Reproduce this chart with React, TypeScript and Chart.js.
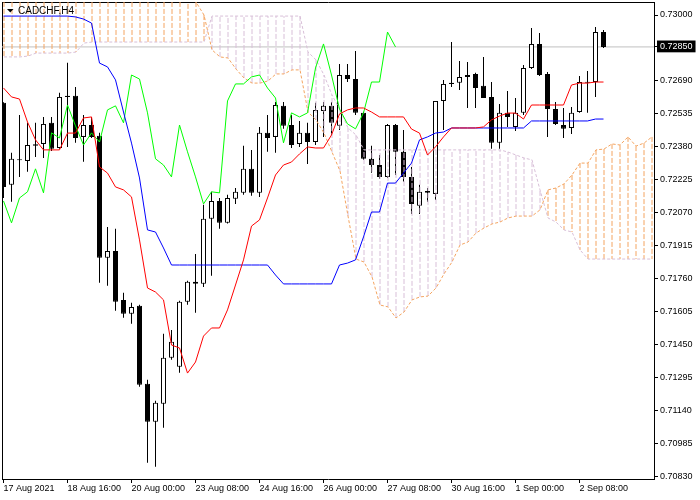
import React, { useEffect, useRef } from "react";
import { Chart, registerables } from "chart.js";

Chart.register(...registerables);

const symbolLabel = "CADCHF,H4";
const timeLabels = ["17 Aug 2021", "18 Aug 16:00", "20 Aug 00:00", "23 Aug 08:00", "24 Aug 16:00", "26 Aug 00:00", "27 Aug 08:00", "30 Aug 16:00", "1 Sep 00:00", "2 Sep 08:00"];
const timeLabelBars = [0, 8, 16, 24, 32, 40, 48, 56, 64, 72];
const priceTicks = [0.73, 0.7285, 0.7269, 0.72535, 0.7238, 0.72225, 0.7207, 0.71915, 0.7176, 0.71605, 0.7145, 0.71295, 0.7114, 0.70985, 0.7083];
const currentPrice = 0.7285;
const chikouShift = 26;

const opens = [
  0.72587, 0.72202, 0.72319, 0.72314, 0.72392, 0.72394, 0.72493, 0.72375, 0.72620, 0.72620,
  0.72427, 0.72483, 0.72432, 0.71859, 0.71891, 0.71661, 0.71596, 0.71633, 0.71267, 0.71088,
  0.71173, 0.71389, 0.71347, 0.71652, 0.71746, 0.71737, 0.72042, 0.72126, 0.72023, 0.72136,
  0.72164, 0.72277, 0.72164, 0.72446, 0.72427, 0.72573, 0.72483, 0.72394, 0.72446, 0.72403,
  0.72549, 0.72573, 0.72479, 0.72718, 0.72699, 0.72540, 0.72324, 0.72295, 0.72239, 0.72483,
  0.72357, 0.72239, 0.72103, 0.72173, 0.72159, 0.72596, 0.72681, 0.72681, 0.72709, 0.72723,
  0.72667, 0.72615, 0.72399, 0.72540, 0.72474, 0.72540, 0.72751, 0.72864, 0.72723, 0.72558,
  0.72483, 0.72469, 0.72544, 0.72681, 0.72685, 0.72920,
];
const highs = [
  0.72590, 0.72352, 0.72530, 0.72493, 0.72493, 0.72521, 0.72521, 0.72634, 0.72775, 0.72662,
  0.72530, 0.72521, 0.72446, 0.72004, 0.71995, 0.71694, 0.71647, 0.71638, 0.71286, 0.71187,
  0.71502, 0.71520, 0.71657, 0.71751, 0.71877, 0.72108, 0.72169, 0.72140, 0.72155, 0.72187,
  0.72385, 0.72366, 0.72474, 0.72530, 0.72591, 0.72591, 0.72530, 0.72502, 0.72493, 0.72587,
  0.72591, 0.72591, 0.72770, 0.72770, 0.72831, 0.72545, 0.72385, 0.72342, 0.72488, 0.72488,
  0.72460, 0.72286, 0.72202, 0.72187, 0.72596, 0.72695, 0.72873, 0.72784, 0.72779, 0.72728,
  0.72803, 0.72685, 0.72582, 0.72643, 0.72610, 0.72765, 0.72939, 0.72915, 0.72732, 0.72591,
  0.72563, 0.72568, 0.72713, 0.72737, 0.72944, 0.72930,
];
const lows = [
  0.72140, 0.72122, 0.72239, 0.72263, 0.72333, 0.72328, 0.72361, 0.72371, 0.72380, 0.72399,
  0.72310, 0.72422, 0.71741, 0.71727, 0.71610, 0.71577, 0.71549, 0.71253, 0.70896, 0.70877,
  0.71060, 0.71380, 0.71318, 0.71638, 0.71600, 0.71722, 0.71774, 0.71995, 0.72020, 0.72112,
  0.72155, 0.72150, 0.72145, 0.72357, 0.72352, 0.72465, 0.72375, 0.72380, 0.72300, 0.72389,
  0.72427, 0.72436, 0.72460, 0.72685, 0.72530, 0.72319, 0.72258, 0.72230, 0.72234, 0.72248,
  0.72216, 0.72065, 0.72065, 0.72122, 0.72131, 0.72460, 0.72662, 0.72648, 0.72563, 0.72563,
  0.72610, 0.72371, 0.72371, 0.72474, 0.72455, 0.72530, 0.72746, 0.72713, 0.72427, 0.72483,
  0.72422, 0.72441, 0.72540, 0.72540, 0.72615, 0.72845,
];
const closes = [
  0.72192, 0.72324, 0.72317, 0.72389, 0.72385, 0.72488, 0.72371, 0.72615, 0.72615, 0.72422,
  0.72483, 0.72427, 0.71859, 0.71891, 0.71652, 0.71596, 0.71628, 0.71262, 0.71088, 0.71178,
  0.71389, 0.71464, 0.71652, 0.71746, 0.71737, 0.72042, 0.72126, 0.72023, 0.72140, 0.72169,
  0.72277, 0.72164, 0.72446, 0.72422, 0.72577, 0.72479, 0.72389, 0.72446, 0.72403, 0.72554,
  0.72573, 0.72493, 0.72718, 0.72699, 0.72540, 0.72324, 0.72295, 0.72239, 0.72483, 0.72357,
  0.72239, 0.72112, 0.72169, 0.72164, 0.72596, 0.72676, 0.72676, 0.72709, 0.72718, 0.72657,
  0.72610, 0.72399, 0.72540, 0.72521, 0.72540, 0.72751, 0.72864, 0.72718, 0.72558, 0.72488,
  0.72465, 0.72540, 0.72685, 0.72685, 0.72920, 0.72850,
];
const tenkan = [
  0.72657, 0.72615, 0.72605, 0.72497, 0.72413, 0.72366, 0.72366, 0.72366, 0.72445, 0.72445,
  0.72516, 0.72521, 0.72286, 0.72257, 0.72192, 0.72178, 0.72145, 0.71943, 0.71717, 0.71698,
  0.71661, 0.71449, 0.71435, 0.71317, 0.71369, 0.71491, 0.71529, 0.71529, 0.71614, 0.71731,
  0.71849, 0.72008, 0.72037, 0.72140, 0.72248, 0.72295, 0.72309, 0.72347, 0.72380, 0.72375,
  0.72375, 0.72436, 0.72535, 0.72554, 0.72563, 0.72563, 0.72544, 0.72521, 0.72521, 0.72521,
  0.72521, 0.72464, 0.72445, 0.72342, 0.72380, 0.72427, 0.72469, 0.72469, 0.72469, 0.72469,
  0.72474, 0.72507, 0.72525, 0.72539, 0.72539, 0.72511, 0.72577, 0.72577, 0.72577, 0.72577,
  0.72577, 0.72671, 0.72680, 0.72680, 0.72685, 0.72685,
];
const kijun = [
  0.72995, 0.72995, 0.72995, 0.72995, 0.72995, 0.72995, 0.72995, 0.72995, 0.72995, 0.72991,
  0.72981, 0.72962, 0.72774, 0.72756, 0.72695, 0.72544, 0.72398, 0.72234, 0.71990, 0.71980,
  0.71905, 0.71825, 0.71825, 0.71825, 0.71825, 0.71825, 0.71825, 0.71825, 0.71825, 0.71825,
  0.71825, 0.71825, 0.71825, 0.71825, 0.71778, 0.71736, 0.71736, 0.71736, 0.71736, 0.71736,
  0.71736, 0.71736, 0.71825, 0.71834, 0.71849, 0.71957, 0.72074, 0.72074, 0.72210, 0.72210,
  0.72257, 0.72304, 0.72413, 0.72427, 0.72445, 0.72450, 0.72469, 0.72469, 0.72469, 0.72469,
  0.72469, 0.72469, 0.72469, 0.72469, 0.72469, 0.72469, 0.72502, 0.72502, 0.72502, 0.72502,
  0.72502, 0.72502, 0.72502, 0.72502, 0.72511, 0.72511,
];
const spanA = [
  0.73160, 0.73160, 0.73160, 0.73160, 0.73160, 0.73160, 0.73160, 0.73160, 0.73160, 0.73160,
  0.73160, 0.73160, 0.73160, 0.73160, 0.73160, 0.73160, 0.73160, 0.73160, 0.73160, 0.73160,
  0.73160, 0.73160, 0.73160, 0.73118, 0.73061, 0.73000, 0.72836, 0.72803, 0.72798, 0.72746,
  0.72704, 0.72680, 0.72680, 0.72690, 0.72723, 0.72723, 0.72742, 0.72742, 0.72544, 0.72507,
  0.72445, 0.72356, 0.72267, 0.72055, 0.71853, 0.71839, 0.71769, 0.71637, 0.71628, 0.71576,
  0.71604, 0.71661, 0.71675, 0.71679, 0.71717, 0.71783, 0.71839, 0.71919, 0.71933, 0.71975,
  0.71999, 0.72018, 0.72027, 0.72046, 0.72055, 0.72055, 0.72055, 0.72084, 0.72178, 0.72187,
  0.72206, 0.72248, 0.72304, 0.72304, 0.72366, 0.72370, 0.72394, 0.72389, 0.72427, 0.72384,
  0.72398, 0.72427,
];
const spanB = [
  0.72803, 0.72803, 0.72803, 0.72807, 0.72821, 0.72821, 0.72821, 0.72821, 0.72821, 0.72826,
  0.72868, 0.72873, 0.72873, 0.72873, 0.72873, 0.72873, 0.72873, 0.72873, 0.72873, 0.72873,
  0.72873, 0.72873, 0.72873, 0.72873, 0.72873, 0.72873, 0.72995, 0.72995, 0.72995, 0.72995,
  0.72995, 0.72995, 0.72995, 0.72995, 0.72995, 0.72995, 0.72995, 0.72995, 0.72826, 0.72789,
  0.72718, 0.72624, 0.72554, 0.72469, 0.72436, 0.72366, 0.72366, 0.72366, 0.72366, 0.72366,
  0.72366, 0.72366, 0.72366, 0.72366, 0.72366, 0.72366, 0.72366, 0.72366, 0.72366, 0.72366,
  0.72366, 0.72366, 0.72366, 0.72356, 0.72342, 0.72328, 0.72319, 0.72178, 0.72046, 0.72027,
  0.71990, 0.71980, 0.71896, 0.71853, 0.71853, 0.71853, 0.71853, 0.71853, 0.71853, 0.71853,
  0.71853, 0.71853,
];

const RED = "#ff0000";
const BLUE = "#0000ff";
const LIME = "#00ff00";
const SANDY = "#f4a460";
const THISTLE = "#d8bfd8";
const SILVER = "#c0c0c0";
const FONT = { family: "Liberation Sans", size: 9 };
// half-pixel nudge (in bar units, 8 px per bar) so dashed 1px strokes land on whole pixels
const STROKE_NUDGE = 0.0625;

const titlePlugin = {
  id: "symbolTitle",
  afterDraw(chart: any) {
    const ctx = chart.ctx;
    ctx.save();
    ctx.fillStyle = "#000";
    ctx.beginPath();
    ctx.moveTo(7, 9);
    ctx.lineTo(13.5, 9);
    ctx.lineTo(10.25, 12.5);
    ctx.closePath();
    ctx.fill();
    ctx.font = '10px "Liberation Sans"';
    ctx.textBaseline = "alphabetic";
    ctx.textAlign = "left";
    ctx.fillText(symbolLabel, 18, 14);
    ctx.restore();
  },
};

const noPad = (s: any) => {
  s.paddingTop = 0;
  s.paddingBottom = 0;
  s.paddingLeft = 0;
  s.paddingRight = 0;
};

export default function App() {
  const canvasRef = useRef<HTMLCanvasElement | null>(null);

  useEffect(() => {
    document.body.style.margin = "0";
    const canvas = canvasRef.current;
    if (!canvas) return;

    const asPoints = (arr: number[], dx = 0) => arr.map((y, x) => ({ x: x + dx, y }));
    const chikou = closes.slice(chikouShift).map((y, x) => ({ x, y }));
    const bodyColors = closes.map((c, i) => (c >= opens[i] ? "#ffffff" : "#000000"));

    const lineDs = (data: any[], color: string, order: number, dash: number[] = []) => ({
      type: "line",
      data,
      borderColor: color,
      backgroundColor: color,
      borderWidth: 1,
      borderDash: dash,
      pointRadius: 0,
      tension: 0,
      fill: false,
      order,
    });

    const hatches = spanA.map((a, k) =>
      lineDs(
        [
          { x: k + STROKE_NUDGE, y: a },
          { x: k + STROKE_NUDGE, y: spanB[k] },
        ],
        a > spanB[k] ? SANDY : THISTLE,
        5,
        [5, 2]
      )
    );

    const chart = new Chart(canvas, {
      type: "line",
      data: {
        datasets: [
          lineDs(asPoints(tenkan), RED, 1),
          lineDs(asPoints(kijun), BLUE, 1),
          lineDs(chikou, LIME, 1),
          lineDs(asPoints(spanA, STROKE_NUDGE), SANDY, 4, [3, 2]),
          lineDs(asPoints(spanB, STROKE_NUDGE), THISTLE, 4, [3, 2]),
          ...hatches,
          {
            type: "bar",
            data: opens.map((o, k) => ({ x: k, y: [o, closes[k]] })),
            backgroundColor: bodyColors,
            borderColor: "#000000",
            borderWidth: 1,
            borderSkipped: false,
            barThickness: 5,
            grouped: false,
            minBarLength: 1,
            inflateAmount: 0,
            order: 8,
          },
          {
            type: "bar",
            data: highs.map((h, k) => ({ x: k, y: [lows[k], h] })),
            backgroundColor: "#000000",
            borderColor: "#000000",
            borderWidth: 0,
            barThickness: 1,
            grouped: false,
            inflateAmount: 0,
            order: 9,
          },
          lineDs(
            [
              { x: -2, y: currentPrice },
              { x: 90, y: currentPrice },
            ],
            SILVER,
            10
          ),
        ] as any,
      },
      options: {
        responsive: false,
        animation: false,
        devicePixelRatio: 1,
        events: [],
        layout: { padding: { left: 2, top: 2, right: 0, bottom: 0 } },
        plugins: {
          legend: { display: false },
          tooltip: { enabled: false },
          title: { display: false },
          colors: { enabled: false },
        },
        scales: {
          x: {
            type: "linear",
            position: "bottom",
            min: -0.1875,
            max: 81.3125,
            offset: false,
            afterBuildTicks: (s: any) => {
              s.ticks = timeLabelBars.map((v) => ({ value: v }));
            },
            afterFit: (s: any) => {
              s.height = 21;
              noPad(s);
            },
            ticks: {
              autoSkip: false,
              maxRotation: 0,
              minRotation: 0,
              align: "start",
              padding: 0,
              color: "#000",
              font: FONT,
              callback: (v: any) => {
                const i = timeLabelBars.indexOf(Number(v));
                return i >= 0 ? timeLabels[i] : "";
              },
            },
            grid: { drawOnChartArea: false, tickLength: 4, color: "#000", offset: false },
            border: { display: true, color: "#000" },
          },
          y: {
            type: "linear",
            position: "right",
            min: 0.708192,
            max: 0.730611,
            beginAtZero: false,
            afterBuildTicks: (s: any) => {
              s.ticks = priceTicks.map((v) => ({ value: v }));
            },
            afterFit: (s: any) => {
              s.width = 46;
              noPad(s);
            },
            ticks: {
              padding: 2,
              font: FONT,
              color: (c: any) => (c.tick && c.tick.value === currentPrice ? "#ffffff" : "#000000"),
              showLabelBackdrop: true,
              backdropColor: (c: any) => (c.tick && c.tick.value === currentPrice ? "#000000" : "rgba(0,0,0,0)"),
              backdropPadding: { left: 3, right: 3, top: 1, bottom: 0 },
              callback: (v: any) => Number(v).toFixed(5),
            },
            grid: { drawOnChartArea: false, tickLength: 4, color: "#000" },
            border: { display: true, color: "#000" },
          },
          xTop: {
            type: "linear",
            position: "top",
            display: true,
            ticks: { display: false },
            grid: { drawOnChartArea: false, drawTicks: false },
            border: { display: true, color: "#000" },
            afterFit: (s: any) => {
              s.height = 0;
              noPad(s);
            },
          },
          yLeft: {
            type: "linear",
            position: "left",
            display: true,
            ticks: { display: false },
            grid: { drawOnChartArea: false, drawTicks: false },
            border: { display: true, color: "#000" },
            afterFit: (s: any) => {
              s.width = 0;
              noPad(s);
            },
          },
        },
      } as any,
      plugins: [titlePlugin],
    });

    return () => {
      chart.destroy();
    };
  }, []);

  return (
    <div style={{ width: 700, height: 500 }}>
      <canvas ref={canvasRef} width={700} height={500} style={{ display: "block" }} />
    </div>
  );
}
